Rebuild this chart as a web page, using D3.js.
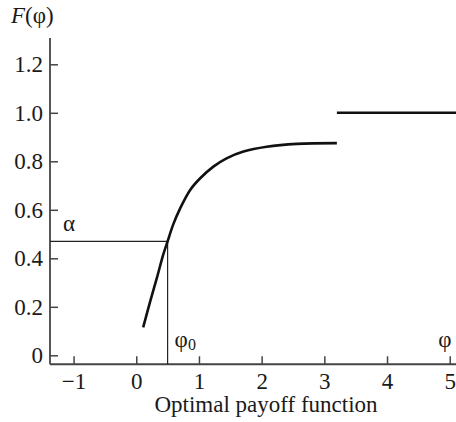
<!DOCTYPE html>
<html>
<head>
<meta charset="utf-8">
<script src="https://cdn.jsdelivr.net/npm/d3@7"></script>
<style>
  body { margin: 0; background: #fff; }
  svg text { font-family: "Liberation Serif", "DejaVu Serif", serif; fill: #1a1a1a; }
</style>
</head>
<body>
<div id="chart"></div>
<script>
// curve F(phi)
const phi = [0.11, 0.22, 0.33, 0.43, 0.5, 0.59, 0.7, 0.86, 1.02, 1.23, 1.44, 1.71, 2.08, 2.56, 3.2]
const F = [0.115, 0.22, 0.32, 0.415, 0.47, 0.54, 0.606, 0.682, 0.73, 0.778, 0.812, 0.84, 0.86, 0.872, 0.875]
// upper step at 1.0
const stepPhi = [3.2, 5.1]
const stepF = [1.0, 1.0]
// alpha / phi0 guide point
const phi0 = 0.5
const alpha = 0.47
const xTicks = [-1, 0, 1, 2, 3, 4, 5]
const yTicks = [0, 0.2, 0.4, 0.6, 0.8, 1.0, 1.2]
const xDomain = [-1.376, 5.1]
const yDomain = [-0.037, 1.308]

const width = 456, height = 422
const svg = d3.select('#chart').append('svg')
    .attr('width', width)
    .attr('height', height)

const x = d3.scaleLinear().domain(xDomain).range([50, 456])
const y = d3.scaleLinear().domain([0, 1.2]).range([355.3, 64.3])

const axisColor = '#444'
const fs = 23

// axes
const xAxis = svg.append('g')
    .attr('transform', `translate(0,${y(yDomain[0])})`)
    .call(d3.axisBottom(x).tickValues(xTicks).tickSizeInner(-8).tickSizeOuter(0)
        .tickPadding(8).tickFormat(d3.format('d')))
const yAxis = svg.append('g')
    .attr('transform', `translate(${x(xDomain[0])},0)`)
    .call(d3.axisLeft(y).tickValues(yTicks).tickSizeInner(-8).tickSizeOuter(0)
        .tickPadding(7).tickFormat(d => d === 0 ? '0' : d3.format('.1f')(d)))
;[xAxis, yAxis].forEach(g => {
    g.select('.domain').remove()
    g.selectAll('line').attr('stroke', axisColor).attr('stroke-width', 1.5)
    g.selectAll('text').attr('font-size', fs).attr('fill', '#1a1a1a')
        .attr('font-family', '"Liberation Serif", serif')
})
svg.append('line')
    .attr('x1', x(xDomain[0])).attr('x2', x(xDomain[1]))
    .attr('y1', y(yDomain[0])).attr('y2', y(yDomain[0]))
    .attr('stroke', axisColor).attr('stroke-width', 1.8)
svg.append('line')
    .attr('x1', x(xDomain[0])).attr('x2', x(xDomain[0]))
    .attr('y1', y(yDomain[1])).attr('y2', y(yDomain[0]))
    .attr('stroke', axisColor).attr('stroke-width', 1.8)

// guide lines to (phi0, alpha)
svg.append('line')
    .attr('x1', x(xDomain[0])).attr('x2', x(phi0))
    .attr('y1', y(alpha)).attr('y2', y(alpha))
    .attr('stroke', '#222').attr('stroke-width', 1.2)
svg.append('line')
    .attr('x1', x(phi0)).attr('x2', x(phi0))
    .attr('y1', y(alpha)).attr('y2', y(yDomain[0]))
    .attr('stroke', '#222').attr('stroke-width', 1.2)

// curve
const line = d3.line().x(d => x(d[0])).y(d => y(d[1])).curve(d3.curveCatmullRom.alpha(0.5))
svg.append('path')
    .datum(d3.zip(phi, F))
    .attr('d', line)
    .attr('fill', 'none').attr('stroke', '#111').attr('stroke-width', 2.6)
svg.append('path')
    .datum(d3.zip(stepPhi, stepF))
    .attr('d', d3.line().x(d => x(d[0])).y(d => y(d[1])))
    .attr('fill', 'none').attr('stroke', '#111').attr('stroke-width', 2.6)

// labels
const yLabel = svg.append('text').attr('x', 11).attr('y', 23).attr('font-size', fs)
yLabel.append('tspan').attr('font-style', 'italic').text('F')
yLabel.append('tspan').text('(φ)')

svg.append('text').attr('x', 63).attr('y', 231).attr('font-size', fs).text('α')

const p0 = svg.append('text').attr('x', x(phi0) + 7).attr('y', 347).attr('font-size', fs)
p0.append('tspan').text('φ')
p0.append('tspan').attr('font-size', 16).attr('dy', 3).text('0')

svg.append('text').attr('x', 445).attr('y', 347).attr('font-size', fs)
    .attr('text-anchor', 'middle').text('φ')

svg.append('text').attr('x', 266).attr('y', 412).attr('font-size', fs)
    .attr('text-anchor', 'middle').text('Optimal payoff function')
</script>
</body>
</html>
